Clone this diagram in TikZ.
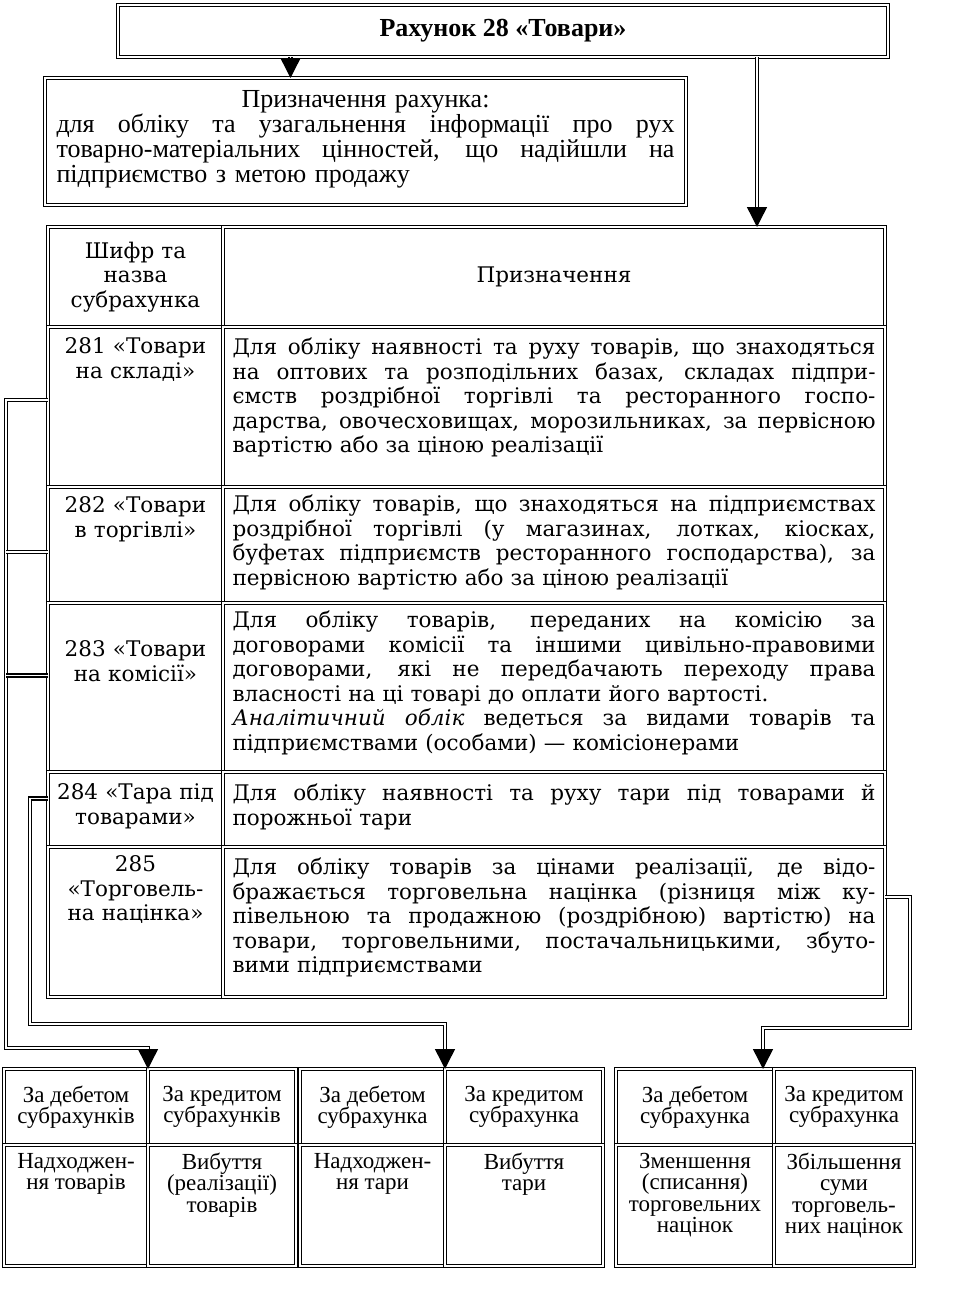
\documentclass[tikz,border=0pt]{standalone}
\usepackage{fontspec}
\setmainfont{Liberation Serif}
\newfontfamily\tabfont{DejaVu Serif}
\usetikzlibrary{arrows.meta,positioning}
% one line stretched to the full width of its node
\newcommand{\jl}[1]{\makebox[\hsize][s]{\spaceskip=0.3em plus 20em\relax #1}\\}

\begin{document}
\begin{tikzpicture}[
    x=1pt, y=-1pt,
    every node/.style={inner sep=0pt, outer sep=0pt},
    frame/.style={
      rectangle, draw, double, double distance=1.7pt, line width=1.4pt,
      anchor=north west
    },
    bodytext/.style={
      font=\tabfont\fontsize{21.5}{24.5}\selectfont, text width=643pt,
      align=left, anchor=north
    },
    codetext/.style={
      font=\tabfont\fontsize{21.5}{24.5}\selectfont, text width=168pt,
      align=center, anchor=north
    },
    smalltext/.style={font=\fontsize{23}{21.5}\selectfont, align=center},
    link/.style={draw, double, double distance=1.7pt, line width=1.4pt},
    arr/.style={link, -{Triangle[length=20pt, width=20pt]}}
  ]
    \useasboundingbox (0,0) rectangle (960,1301);

    % Title and purpose
    \node[frame, minimum width=770pt, minimum height=52pt,
      font=\bfseries\fontsize{26}{28}\selectfont] (title) at (118,5) {Рахунок 28 «Товари»};
    \node[frame, minimum width=641pt, minimum height=127pt] (purpose) at (45,78) {};
    \node[font=\fontsize{26}{25}\selectfont, text width=618pt, align=left,
      below=12pt of purpose.north] (purposetext) {%
      \makebox[\hsize]{Призначення рахунка:}\\
      \jl{для обліку та узагальнення інформації про рух}
      \jl{товарно-матеріальних цінностей, що надійшли на}
      підприємство з метою продажу};

    % Table of subaccounts
    \node[frame, minimum width=175pt, minimum height=100pt, text width=168pt,
      align=center, font=\tabfont\fontsize{21.5}{24.5}\selectfont] (hdrL) at (48,227) {Шифр та\\назва\\субрахунка};
    \node[frame, minimum width=662pt, minimum height=100pt,
      font=\tabfont\fontsize{21.5}{24.5}\selectfont] (hdrR) at (223,227) {Призначення};

    \node[frame, minimum width=175pt, minimum height=160pt] (c281) at (48,327) {};
    \node[frame, minimum width=662pt, minimum height=160pt] (p281) at (223,327) {};
    \node[frame, minimum width=175pt, minimum height=116pt] (c282) at (48,487) {};
    \node[frame, minimum width=662pt, minimum height=116pt] (p282) at (223,487) {};
    \node[frame, minimum width=175pt, minimum height=169pt] (c283) at (48,603) {};
    \node[frame, minimum width=662pt, minimum height=169pt] (p283) at (223,603) {};
    \node[frame, minimum width=175pt, minimum height=75pt] (c284) at (48,772) {};
    \node[frame, minimum width=662pt, minimum height=75pt] (p284) at (223,772) {};
    \node[frame, minimum width=175pt, minimum height=150pt] (c285) at (48,847) {};
    \node[frame, minimum width=662pt, minimum height=150pt] (p285) at (223,847) {};

    \node[codetext, below=11pt of c281.north] (t281) {281 «Товари\\на складі»};
    \node[codetext, below=10pt of c282.north] (t282) {282 «Товари\\в торгівлі»};
    \node[codetext, below=38pt of c283.north] (t283) {283 «Товари\\на комісії»};
    \node[codetext, below=12pt of c284.north] (t284) {284 «Тара під\\товарами»};
    \node[codetext, below=9pt of c285.north] (t285) {285\\«Торговель-\\на націнка»};

    \node[bodytext, below=11pt of p281.north] (d281) {%
      \jl{Для обліку наявності та руху товарів, що знаходяться}
      \jl{на оптових та розподільних базах, складах підпри-}
      \jl{ємств роздрібної торгівлі та ресторанного госпо-}
      \jl{дарства, овочесховищах, морозильниках, за первісною}
      вартістю або за ціною реалізації};
    \node[bodytext, below=8pt of p282.north] (d282) {%
      \jl{Для обліку товарів, що знаходяться на підприємствах}
      \jl{роздрібної торгівлі (у магазинах, лотках, кіосках,}
      \jl{буфетах підприємств ресторанного господарства), за}
      первісною вартістю або за ціною реалізації};
    \node[bodytext, below=8pt of p283.north] (d283) {%
      \jl{Для обліку товарів, переданих на комісію за}
      \jl{договорами комісії та іншими цивільно-правовими}
      \jl{договорами, які не передбачають переходу права}
      власності на ці товарі до оплати його вартості.\\
      \jl{\textit{Аналітичний облік} ведеться за видами товарів та}
      підприємствами (особами) — комісіонерами};
    \node[bodytext, below=12pt of p284.north] (d284) {%
      \jl{Для обліку наявності та руху тари під товарами й}
      порожньої тари};
    \node[bodytext, below=11pt of p285.north] (d285) {%
      \jl{Для обліку товарів за цінами реалізації, де відо-}
      \jl{бражається торговельна націнка (різниця між ку-}
      \jl{півельною та продажною (роздрібною) вартістю) на}
      \jl{товари, торговельними, постачальницькими, збуто-}
      вими підприємствами};

    % Debit / credit tables
    \node[frame, smalltext, minimum width=144pt, minimum height=76pt] (d1) at (4,1069) {За дебетом\\субрахунків};
    \node[frame, smalltext, minimum width=148pt, minimum height=76pt] (k1) at (148,1069) {За кредитом\\субрахунків};
    \node[frame, minimum width=144pt, minimum height=121pt] (e1) at (4,1145) {};
    \node[frame, minimum width=148pt, minimum height=121pt] (f1) at (148,1145) {};
    \node[frame, smalltext, minimum width=145pt, minimum height=76pt] (d2) at (300,1069) {За дебетом\\субрахунка};
    \node[frame, smalltext, minimum width=158pt, minimum height=76pt] (k2) at (445,1069) {За кредитом\\субрахунка};
    \node[frame, minimum width=145pt, minimum height=121pt] (e2) at (300,1145) {};
    \node[frame, minimum width=158pt, minimum height=121pt] (f2) at (445,1145) {};
    \node[frame, smalltext, minimum width=158pt, minimum height=76pt] (d3) at (616,1069) {За дебетом\\субрахунка};
    \node[frame, smalltext, minimum width=140pt, minimum height=76pt] (k3) at (774,1069) {За кредитом\\субрахунка};
    \node[frame, minimum width=158pt, minimum height=121pt] (e3) at (616,1145) {};
    \node[frame, minimum width=140pt, minimum height=121pt] (f3) at (774,1145) {};

    \node[smalltext, anchor=north, below=8pt of e1.north] (te1) {Надходжен-\\ня товарів};
    \node[smalltext, anchor=north, below=8pt of f1.north] (tf1) {Вибуття\\(реалізації)\\товарів};
    \node[smalltext, anchor=north, below=8pt of e2.north] (te2) {Надходжен-\\ня тари};
    \node[smalltext, anchor=north, below=8pt of f2.north] (tf2) {Вибуття\\тари};
    \node[smalltext, anchor=north, below=8pt of e3.north] (te3) {Зменшення\\(списання)\\торговельних\\націнок};
    \node[smalltext, anchor=north, below=8pt of f3.north] (tf3) {Збільшення\\суми\\торговель-\\них націнок};

    % Connectors
    \coordinate (busL) at (6,1048);
    \coordinate (busM) at (30,1024);
    \coordinate (busR) at (910,1028);

    \draw[arr] ([xshift=-75pt]purpose.north |- title.south) -- ([xshift=-75pt]purpose.north);
    \draw[arr] ([xshift=203pt]hdrR.north |- title.south) -- ([xshift=203pt]hdrR.north);

    \draw[arr] ([yshift=7pt]c281.west) -| (busL) -| (d1.north east);
    \draw[link] ([yshift=-7pt]c282.west) -- ([yshift=-7pt]c282.west -| busL);
    \draw[link] ([yshift=12pt]c283.west) -- ([yshift=12pt]c283.west -| busL);
    \draw[arr] ([yshift=11pt]c284.west) -| (busM) -| (d2.north east);
    \draw[arr] ([yshift=25pt]p285.east) -| (busR) -| ([xshift=-11pt]d3.north east);

  \end{tikzpicture}
\end{document}
